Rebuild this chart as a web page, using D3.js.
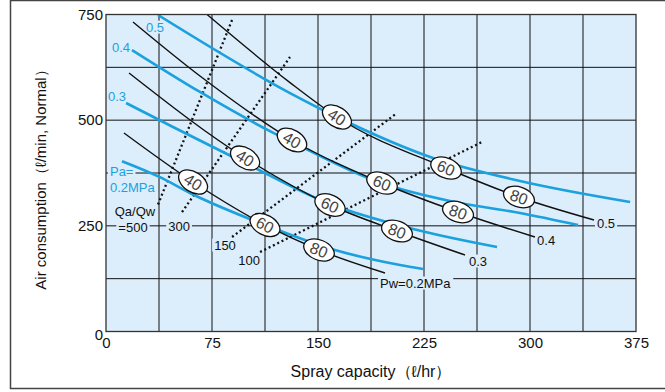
<!DOCTYPE html>
<html>
<head>
<meta charset="utf-8">
<script src="https://cdn.jsdelivr.net/npm/d3@7"></script>
<style>
  body { margin: 0; background: #fff; }
  text { font-family: "Liberation Sans", Arial, sans-serif; }
</style>
</head>
<body>
<svg id="chart" width="665" height="392"></svg>
<script>
// Axis ticks
var xTicks = [0, 75, 150, 225, 300, 375];
var yTicks = [0, 250, 500, 750];

// Black curves: water pressure Pw (spray capacity, air consumption)
var pwNames = ["0.2", "0.3", "0.4", "0.5"];
var pw02 = [[12.7, 469.6], [61.6, 353.7], [112.5, 252.0], [150.7, 192.8], [197.4, 138.4]];
var pw03 = [[16.3, 611.6], [98.4, 410.5], [158.5, 299.3], [205.9, 237.8], [254.0, 181.0]];
var pw04 = [[19.1, 732.3], [66.5, 604.5], [131.6, 453.1], [195.3, 351.3], [249.1, 282.7], [303.5, 223.6]];
var pw05 = [[71.5, 750], [130.2, 588.9], [163.4, 507.5], [240.6, 386.8], [292.2, 318.2], [345.3, 263.8]];

// Blue curves: air pressure Pa
var paNames = ["0.2", "0.3", "0.4", "0.5"];
var pa02 = [[11.3, 403.0], [38.2, 365.1], [59.4, 327.7], [112.5, 252.0], [162.0, 192.8], [208.0, 157.3], [224.3, 147.8]];
var pa03 = [[14.2, 540.6], [47.4, 483.8], [96.9, 401.0], [158.5, 301.7], [217.2, 242.5], [276.7, 199.9]];
var pa04 = [[18.4, 666.0], [66.5, 566.7], [116.0, 474.2], [131.6, 448.4], [194.6, 351.3], [243.4, 308.7], [292.9, 280.4], [334.0, 252.0]];
var pa05 = [[36.8, 748.8], [130.2, 564.2], [163.4, 507.5], [231.4, 410.5], [292.9, 356.1], [370.8, 306.4]];

// Qa/Qw ratio lines (dotted), start and end points
var ratioNames = ["500", "300", "150", "100"];
var ratio500 = [[36.8, 300.4], [89.2, 737.0]];
var ratio300 = [[53.8, 282.6], [130.2, 649.4]];
var ratio150 = [[89.2, 223.6], [205.9, 516.9]];
var ratio100 = [[109.0, 188.1], [266.0, 448.3]];

// Oval markers on the black curves: value, curve index, position
var markValues = [40, 60, 80, 40, 60, 80, 40, 60, 80, 40, 60, 80];
var markCurve = [0, 0, 0, 1, 1, 1, 2, 2, 2, 3, 3, 3];
var markPos = [[61.6, 353.7], [112.5, 252.0], [150.7, 192.8],
               [98.4, 410.5], [158.5, 299.3], [205.9, 237.8],
               [131.6, 453.1], [195.3, 351.3], [249.1, 282.7],
               [163.4, 507.5], [240.6, 386.8], [292.2, 318.2]];

// Text labels inside the plot
var labelText = ["0.5", "0.4", "0.3", "Pa=", "0.2MPa", "Qa/Qw", "=500", "300", "150", "100", "Pw=0.2MPa", "0.3", "0.4", "0.5"];
var labelPos = [[34.7, 720.3], [10.6, 673.1], [7.8, 557.2], [2.8, 377.8], [2.8, 340.5], [20.5, 283.0], [19.1, 245.8],
                [51.7, 249.6], [84.2, 204.6], [101.2, 169.2], [193.9, 114.8], [256.8, 166.8], [305.0, 216.5], [347.4, 256.7]];
var labelBlue = [true, true, true, true, true, false, false, false, false, false, false, false, false, false];

var blue = "#1ba1de";
var bg = "#dcedfb";

var svg = d3.select("#chart");
var margin = {left: 106, right: 29, top: 14.5, bottom: 60.5};
var width = 665, height = 392;

var x = d3.scaleLinear().domain([0, 375]).range([margin.left, width - margin.right]);
var y = d3.scaleLinear().domain([0, 750]).range([height - margin.bottom, margin.top]);

// outer frame
svg.append("rect")
    .attr("x", 10.5).attr("y", 0.5)
    .attr("width", 700).attr("height", 388)
    .attr("fill", "none").attr("stroke", "#444").attr("stroke-width", 1.5);

// plot background
svg.append("rect")
    .attr("x", x(0)).attr("y", y(750))
    .attr("width", x(375) - x(0)).attr("height", y(0) - y(750))
    .attr("fill", bg);

svg.append("clipPath").attr("id", "plotclip")
  .append("rect")
    .attr("x", x(0)).attr("y", y(750))
    .attr("width", x(375) - x(0)).attr("height", y(0) - y(750));

// grid
svg.append("g").selectAll("line")
    .data(d3.range(37.5, 375, 37.5))
    .enter().append("line")
    .attr("x1", function(d) { return x(d); })
    .attr("x2", function(d) { return x(d); })
    .attr("y1", y(0)).attr("y2", y(750))
    .attr("stroke", "#4a4f55").attr("stroke-width", 1.4);

svg.append("g").selectAll("line")
    .data(d3.range(125, 750, 125))
    .enter().append("line")
    .attr("x1", x(0)).attr("x2", x(375))
    .attr("y1", function(d) { return y(d); })
    .attr("y2", function(d) { return y(d); })
    .attr("stroke", "#111").attr("stroke-width", 1);

// labels (background masks the grid lines)
var labels = svg.append("g").selectAll("g")
    .data(labelText)
    .enter().append("g")
    .attr("transform", function(d, i) {
        return "translate(" + x(labelPos[i][0]) + "," + y(labelPos[i][1]) + ")";
    });
labels.append("text")
    .text(function(d) { return d; })
    .attr("text-anchor", function(d, i) { return (i >= 3 && i <= 4) || i >= 10 ? "start" : "middle"; })
    .attr("dy", "0.35em")
    .attr("font-size", 13)
    .attr("fill", function(d, i) { return labelBlue[i] ? blue : "#111"; });
labels.each(function() {
    var g = d3.select(this);
    var b = g.select("text").node().getBBox();
    g.insert("rect", "text")
        .attr("x", b.x - 2).attr("y", b.y + 1)
        .attr("width", b.width + 4).attr("height", b.height - 2)
        .attr("fill", bg);
});

var plot = svg.append("g").attr("clip-path", "url(#plotclip)");

// dotted Qa/Qw lines
var line = d3.line()
    .x(function(d) { return x(d[0]); })
    .y(function(d) { return y(d[1]); });

plot.selectAll(".ratio")
    .data([ratio500, ratio300, ratio150, ratio100])
    .enter().append("path")
    .attr("class", "ratio")
    .attr("d", line)
    .attr("fill", "none")
    .attr("stroke", "#111")
    .attr("stroke-width", 2.3)
    .attr("stroke-dasharray", "2,2.8");

var curve = d3.line()
    .x(function(d) { return x(d[0]); })
    .y(function(d) { return y(d[1]); })
    .curve(d3.curveMonotoneX);

// blue Pa curves
plot.selectAll(".pa")
    .data([pa02, pa03, pa04, pa05])
    .enter().append("path")
    .attr("class", "pa")
    .attr("d", curve)
    .attr("fill", "none")
    .attr("stroke", blue)
    .attr("stroke-width", 2.6);

// black Pw curves
var pwPaths = plot.selectAll(".pw")
    .data([pw02, pw03, pw04, pw05])
    .enter().append("path")
    .attr("class", "pw")
    .attr("d", curve)
    .attr("fill", "none")
    .attr("stroke", "#111")
    .attr("stroke-width", 1.4);

// angle of a path near a point, in degrees
function angleAt(node, px, py) {
    var L = node.getTotalLength(), best = 0, bd = 1e9;
    for (var s = 0; s <= L; s += 1) {
        var p = node.getPointAtLength(s);
        var dd = (p.x - px) * (p.x - px) + (p.y - py) * (p.y - py);
        if (dd < bd) { bd = dd; best = s; }
    }
    var a = node.getPointAtLength(Math.max(0, best - 5)),
        b = node.getPointAtLength(Math.min(L, best + 5));
    return Math.atan2(b.y - a.y, b.x - a.x) * 180 / Math.PI;
}

var pathNodes = pwPaths.nodes();
var marks = plot.selectAll(".mark")
    .data(markValues)
    .enter().append("g")
    .attr("class", "mark")
    .attr("transform", function(d, i) {
        var cx = x(markPos[i][0]), cy = y(markPos[i][1]);
        var ang = angleAt(pathNodes[markCurve[i]], cx, cy);
        return "translate(" + cx + "," + cy + ") rotate(" + ang + ")";
    });
marks.append("ellipse")
    .attr("rx", 16).attr("ry", 10)
    .attr("fill", "#fff")
    .attr("stroke", "#111")
    .attr("stroke-width", 1.3);
marks.append("text")
    .text(function(d) { return d; })
    .attr("text-anchor", "middle")
    .attr("dy", "0.36em")
    .attr("font-size", 16)
    .attr("fill", "#444");

// plot border
svg.append("rect")
    .attr("x", x(0)).attr("y", y(750))
    .attr("width", x(375) - x(0)).attr("height", y(0) - y(750))
    .attr("fill", "none").attr("stroke", "#333").attr("stroke-width", 1.3);

// axes
var yAxis = svg.append("g")
    .attr("transform", "translate(" + x(0) + ",0)")
    .call(d3.axisLeft(y).tickValues(yTicks).tickSize(0).tickPadding(3));
var xAxis = svg.append("g")
    .attr("transform", "translate(0," + y(0) + ")")
    .call(d3.axisBottom(x).tickValues(xTicks).tickSize(0).tickPadding(6));
[yAxis, xAxis].forEach(function(ax) {
    ax.select(".domain").remove();
    ax.selectAll("text")
        .attr("font-size", 15)
        .attr("font-family", "Liberation Sans, Arial, sans-serif")
        .attr("fill", "#111");
});
yAxis.selectAll(".tick text").filter(function(d) { return d === 0; }).attr("dy", "0.5em");

// axis titles
svg.append("text")
    .attr("x", 371).attr("y", 377)
    .attr("text-anchor", "middle")
    .attr("font-size", 16)
    .attr("fill", "#111")
    .text("Spray capacity（ℓ/hr）");

svg.append("text")
    .attr("transform", "translate(46,176) rotate(-90)")
    .attr("text-anchor", "middle")
    .attr("font-size", 15)
    .attr("fill", "#111")
    .text("Air consumption（ℓ/min, Normal）");
</script>
</body>
</html>
